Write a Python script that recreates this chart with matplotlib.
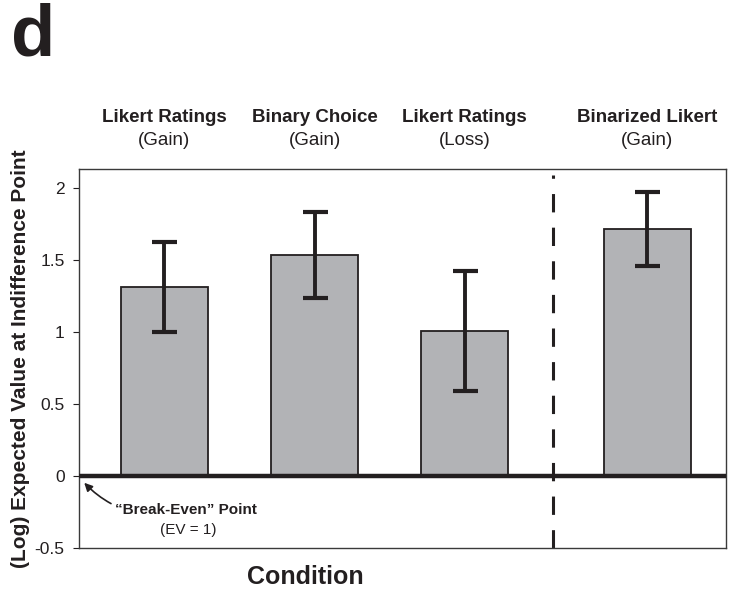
import matplotlib
matplotlib.use("Agg")
import matplotlib.pyplot as plt

# Data
conditions = ["Likert Ratings", "Binary Choice", "Likert Ratings", "Binarized Likert"]
frames = ["(Gain)", "(Gain)", "(Loss)", "(Gain)"]
means = [1.317, 1.537, 1.011, 1.720]
errors = [0.313, 0.296, 0.418, 0.257]
positions = [0, 1, 2, 3.217]
divider_x = 2.59
yticks = [-0.5, 0, 0.5, 1, 1.5, 2]
ytick_labels = ["-0.5", "0", "0.5", "1", "1.5", "2"]

plt.rcParams['font.family'] = ['Liberation Sans', 'DejaVu Sans']
ink = "#231f20"

fig = plt.figure(figsize=(7.43, 5.92), dpi=100)
ax = fig.add_axes([0.1057, 0.0738, 0.8708, 0.6407])

ax.bar(positions, means, width=0.58, color="#b2b3b6", edgecolor=ink,
       linewidth=1.3, zorder=2)
ax.errorbar(positions, means, yerr=errors, fmt="none", ecolor=ink,
            elinewidth=2.8, capsize=9, capthick=3.0, zorder=3)

ax.axhline(0, color=ink, linewidth=3.2, zorder=4)
ax.axvline(divider_x, ymin=0, ymax=0.985, color=ink, linewidth=2.2,
           dashes=(6, 5), zorder=1)

ax.set_xlim(-0.573, 3.74)
ax.set_ylim(-0.5, 2.134)
ax.set_xticks([])
ax.set_yticks(yticks)
ax.set_yticklabels(ytick_labels, fontsize=12.5, color=ink)
ax.tick_params(axis="y", direction="out", length=4, width=0.8, color=ink, pad=6)
for s in ax.spines.values():
    s.set_color("#3a3a3a")
    s.set_linewidth(1.0)

# Column headings above the axes
for x, c, f in zip(positions, conditions, frames):
    ax.text(x, 1.135, c, transform=ax.get_xaxis_transform(), ha="center",
            va="center", fontsize=13.5, fontweight="bold", color=ink)
    ax.text(x, 1.075, f, transform=ax.get_xaxis_transform(), ha="center",
            va="center", fontsize=13.5, color=ink)

ax.set_ylabel("(Log) Expected Value at Indifference Point", fontsize=15,
              fontweight="bold", color=ink, labelpad=3)
fig.text(305 / 743, 1 - 577 / 592, "Condition", fontsize=18, fontweight="bold",
         color=ink, ha="center", va="center")

# Break-even annotation
ax.annotate("\u201cBreak-Even\u201d Point", xy=(-0.535, -0.045), xytext=(-0.33, -0.234),
            fontsize=11, fontweight="bold", color=ink, ha="left", va="center",
            arrowprops=dict(arrowstyle="-|>", color=ink, lw=1.2,
                            connectionstyle="arc3,rad=-0.3", mutation_scale=12,
                            shrinkA=1, shrinkB=0))
ax.text(0.16, -0.37, "(EV = 1)", fontsize=11, color=ink, ha="center", va="center")

fig.text(0.015, 0.995, "d", fontsize=52, fontweight="bold", color=ink,
         ha="left", va="top")

fig.savefig("out.png", dpi=100)
